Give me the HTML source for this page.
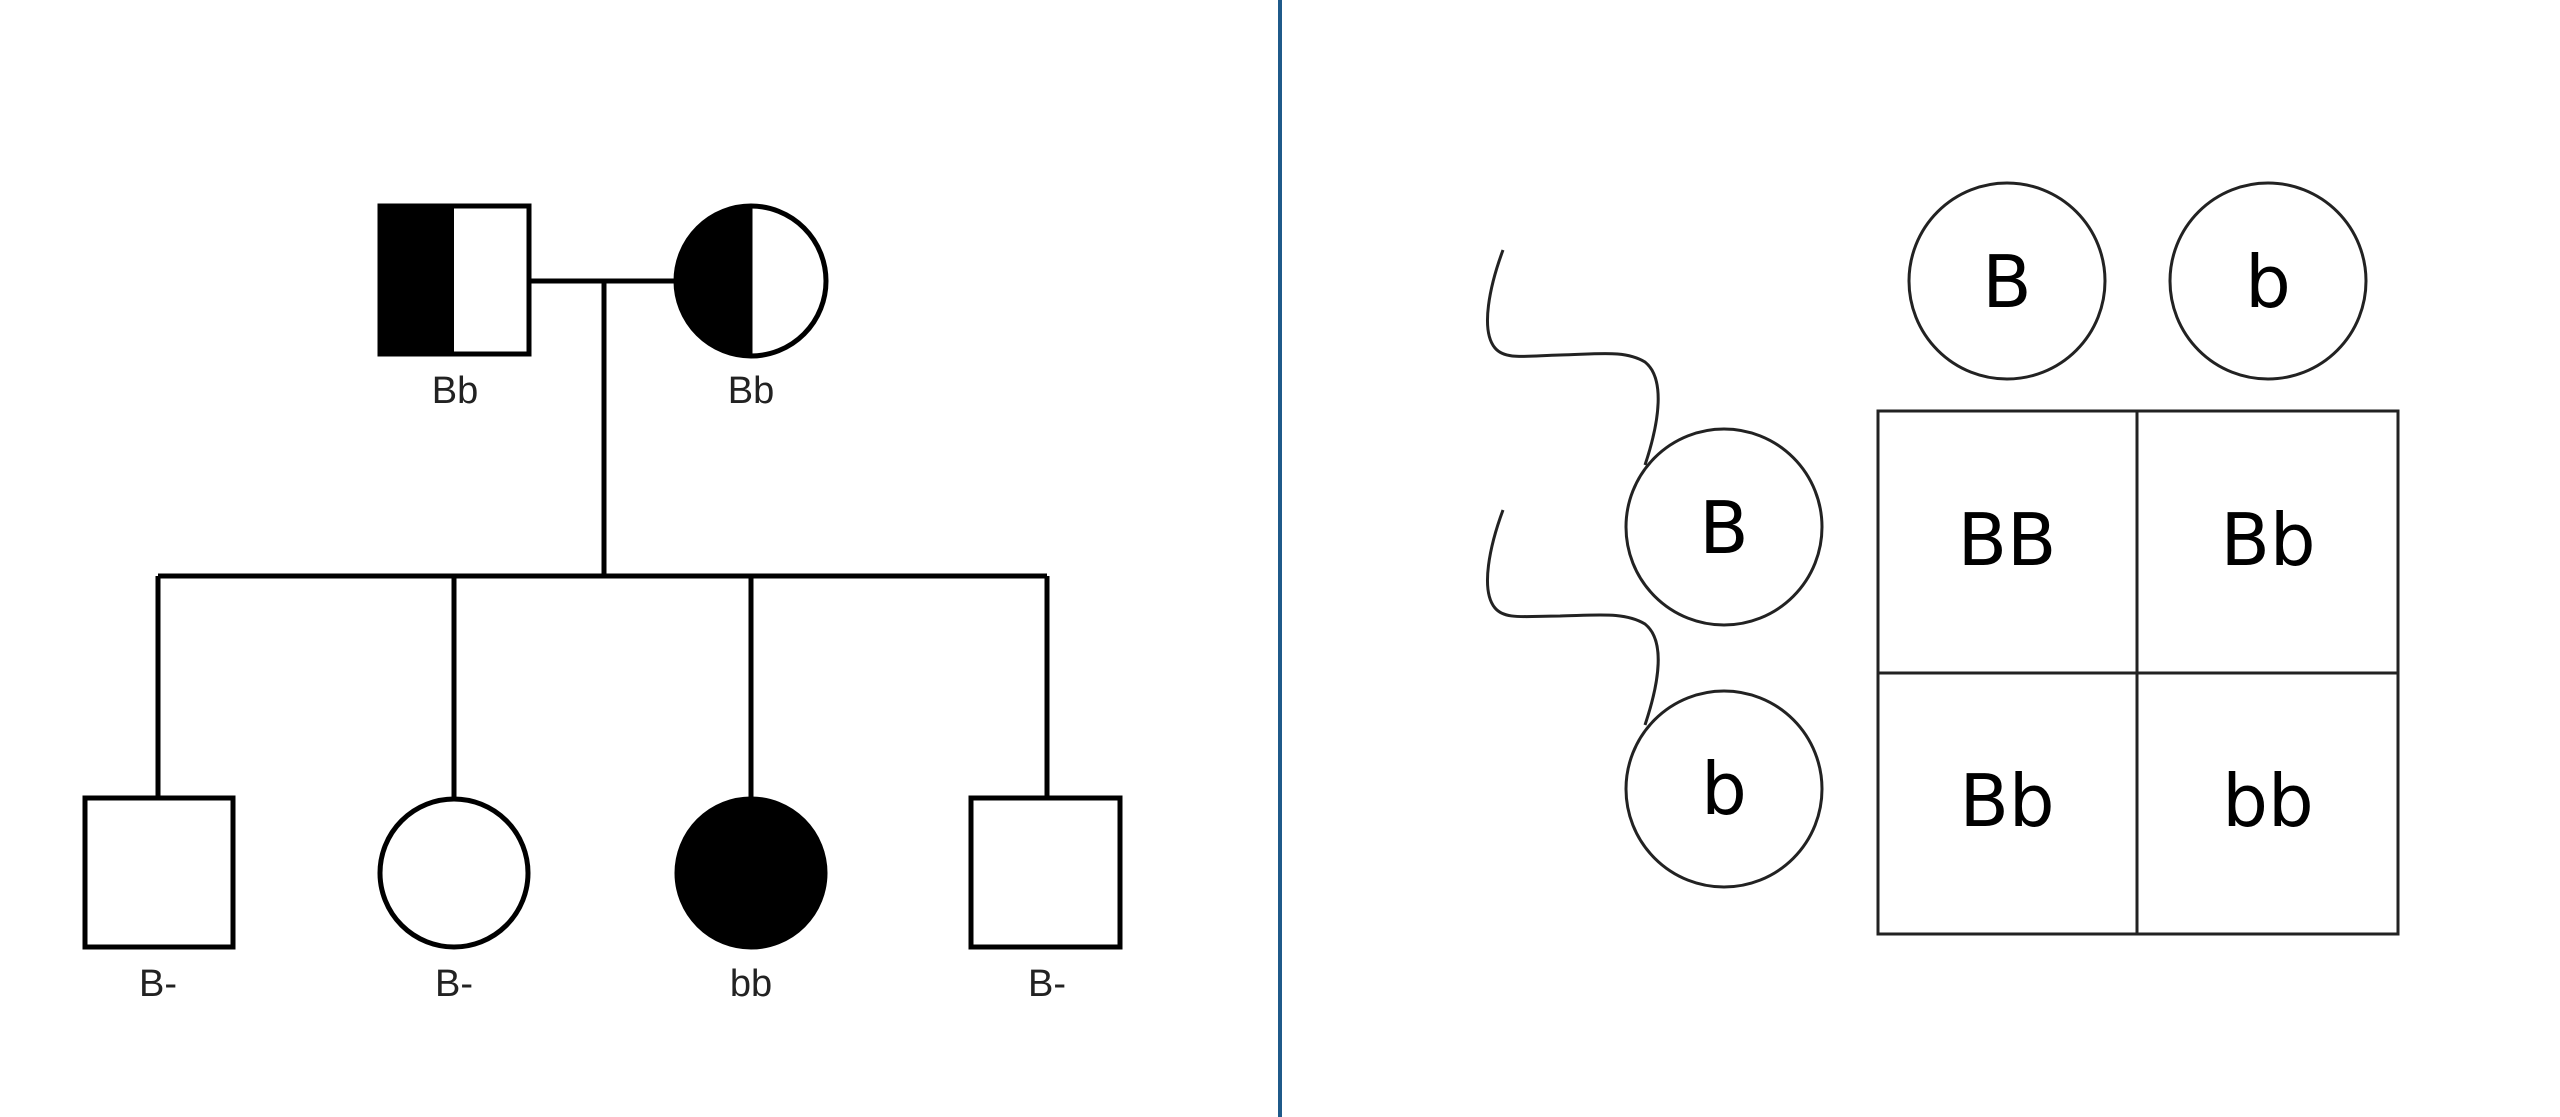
<!DOCTYPE html>
<html><head><meta charset="utf-8"><style>
html,body{margin:0;padding:0;background:#fff;}
svg{display:block;}
</style></head><body>
<svg width="2560" height="1117" viewBox="0 0 2560 1117" xmlns="http://www.w3.org/2000/svg">
<rect width="2560" height="1117" fill="#fff"/>
<line x1="1280" y1="0" x2="1280" y2="1117" stroke="#1f5a8a" stroke-width="4"/>
<g stroke="#000" stroke-width="5" fill="none">
<line x1="529" y1="281" x2="676" y2="281"/>
<line x1="604" y1="281" x2="604" y2="576"/>
<line x1="158" y1="576" x2="1047" y2="576"/>
<line x1="158" y1="576" x2="158" y2="798"/>
<line x1="454" y1="576" x2="454" y2="798"/>
<line x1="751" y1="576" x2="751" y2="798"/>
<line x1="1047" y1="576" x2="1047" y2="798"/>
</g>
<rect x="380" y="206" width="74" height="148" fill="#000"/>
<rect x="380" y="206" width="149" height="148" fill="none" stroke="#000" stroke-width="5"/>
<path d="M751 206 A75 75 0 0 0 751 356 Z" fill="#000"/>
<circle cx="751" cy="281" r="75" fill="none" stroke="#000" stroke-width="5"/>
<line x1="751" y1="206" x2="751" y2="356" stroke="#000" stroke-width="3"/>
<rect x="85" y="798" width="148" height="149" fill="#fff" stroke="#000" stroke-width="5"/>
<circle cx="454" cy="873" r="74" fill="#fff" stroke="#000" stroke-width="5"/>
<circle cx="751" cy="873" r="74" fill="#000" stroke="#000" stroke-width="5"/>
<rect x="971" y="798" width="149" height="149" fill="#fff" stroke="#000" stroke-width="5"/>
<g font-family="Liberation Sans, sans-serif" font-size="38" fill="#222" text-anchor="middle">
<text x="455" y="403">Bb</text>
<text x="751" y="403">Bb</text>
<text x="158" y="996">B-</text>
<text x="454" y="996">B-</text>
<text x="751" y="996">bb</text>
<text x="1047" y="996">B-</text>
</g>
<g stroke="#222" stroke-width="3" fill="none">
<circle cx="2007" cy="281" r="98"/>
<circle cx="2268" cy="281" r="98"/>
<circle cx="1724" cy="527" r="98"/>
<circle cx="1724" cy="789" r="98"/>
<rect x="1878" y="411" width="520" height="523"/>
<line x1="2137" y1="411" x2="2137" y2="934"/>
<line x1="1878" y1="673" x2="2398" y2="673"/>
<path d="M1503 250 C1490 285 1480 330 1495 348 C1505 360 1525 356 1560 355 C1600 354 1625 350 1645 362 C1665 378 1660 420 1645 465"/>
<path d="M1503 510 C1490 545 1480 590 1495 608 C1505 620 1525 616 1560 616 C1600 615 1625 612 1645 624 C1665 640 1660 680 1645 725"/>
</g>
<g font-family="DejaVu Sans, sans-serif" font-size="72" fill="#000" text-anchor="middle">
<text x="2007" y="307">B</text>
<text x="2268" y="307">b</text>
<text x="1724" y="553">B</text>
<text x="1724" y="814">b</text>
<text x="2007" y="565">BB</text>
<text x="2268" y="565">Bb</text>
<text x="2007" y="826">Bb</text>
<text x="2268" y="826">bb</text>
</g>
</svg>
</body></html>
